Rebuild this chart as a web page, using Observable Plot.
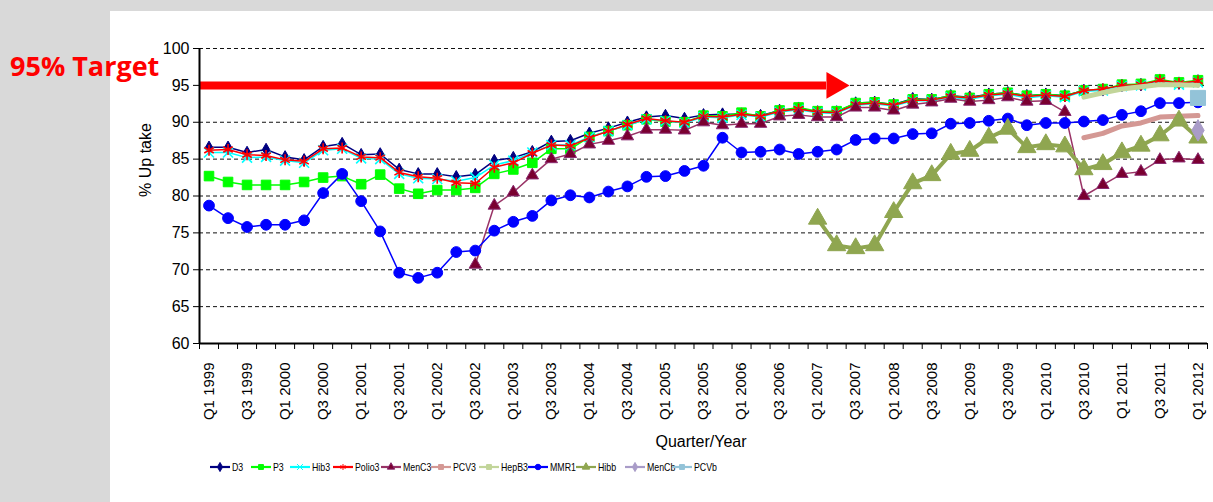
<!DOCTYPE html>
<html><head><meta charset="utf-8">
<script src="https://cdn.jsdelivr.net/npm/d3@7"></script>
<script src="https://cdn.jsdelivr.net/npm/@observablehq/plot@0.6"></script>
<style>
html,body{margin:0;padding:0;}
body{width:1213px;height:502px;background:#d9d9d9;position:relative;overflow:hidden;font-family:"Liberation Sans",Arial,sans-serif;}
#panel{position:absolute;left:110px;top:11px;width:1103px;height:491px;background:#fff;}
#chart{position:absolute;left:0;top:0;}
#overlay{position:absolute;left:0;top:0;}
</style></head><body>
<div id="panel"></div><div id="chart"></div><svg id="overlay" width="1213" height="502"></svg>
<script>
// ---------- data ----------
const quarters = ["Q1 1999","Q2 1999","Q3 1999","Q4 1999","Q1 2000","Q2 2000","Q3 2000","Q4 2000",
"Q1 2001","Q2 2001","Q3 2001","Q4 2001","Q1 2002","Q2 2002","Q3 2002","Q4 2002",
"Q1 2003","Q2 2003","Q3 2003","Q4 2003","Q1 2004","Q2 2004","Q3 2004","Q4 2004",
"Q1 2005","Q2 2005","Q3 2005","Q4 2005","Q1 2006","Q2 2006","Q3 2006","Q4 2006",
"Q1 2007","Q2 2007","Q3 2007","Q4 2007","Q1 2008","Q2 2008","Q3 2008","Q4 2008",
"Q1 2009","Q2 2009","Q3 2009","Q4 2009","Q1 2010","Q2 2010","Q3 2010","Q4 2010",
"Q1 2011","Q2 2011","Q3 2011","Q4 2011","Q1 2012"];
const yTickValues = [60,65,70,75,80,85,90,95,100];
const targetLevel = 95;
const targetLabel = "95% Target";
const yTitle = "% Up take";
const xTitle = "Quarter/Year";

const uptakeD3 = [86.6,86.6,85.9,86.3,85.3,84.9,86.7,87.1,85.6,85.7,83.6,83.0,83.0,82.6,82.9,84.8,
85.2,86.0,87.4,87.5,88.5,89.2,90.0,90.7,90.9,90.5,91.0,91.1,91.1,90.9,91.6,91.9,
91.4,91.4,92.6,92.7,92.4,93.2,93.1,93.6,93.4,93.8,94.0,93.6,93.8,93.6,94.3,94.4,
95.0,95.1,95.7,95.3,95.6];
const uptakeP3 = [82.7,81.9,81.5,81.5,81.5,81.9,82.5,82.7,81.6,82.9,81.0,80.3,80.8,80.8,81.1,83.0,
83.6,84.5,86.4,86.4,88.0,88.8,89.6,90.4,90.1,90.0,90.9,90.8,91.3,90.8,91.6,92.0,
91.5,91.5,92.6,92.7,92.4,93.1,93.1,93.6,93.3,93.8,94.0,93.6,93.8,93.6,94.3,94.5,
95.1,95.2,95.8,95.4,95.7];
const uptakeHib3 = [85.9,85.9,85.2,85.3,84.8,84.5,86.2,86.4,85.1,85.0,83.0,82.4,82.3,82.0,82.5,84.2,
84.8,85.9,86.9,86.9,88.0,88.8,89.6,90.4,90.2,89.9,90.7,90.6,91.0,90.7,91.4,91.7,
91.3,91.2,92.3,92.5,92.2,92.9,92.9,93.4,93.1,93.6,93.8,93.3,93.6,93.4,94.2,94.3,
94.9,95.0,95.5,95.1,95.4];
const uptakePolio3 = [86.2,86.3,85.6,85.5,84.9,84.7,86.4,86.5,85.3,85.2,83.2,82.6,82.4,81.8,81.7,83.9,
84.5,85.8,86.9,86.8,87.9,88.8,89.7,90.5,90.2,90.0,90.8,90.7,91.1,90.8,91.5,91.8,
91.4,91.3,92.4,92.6,92.3,93.0,93.0,93.5,93.3,93.7,93.9,93.5,93.7,93.5,94.3,94.5,
95.0,95.1,95.7,95.3,95.6];
const menC3Start = 14;
const uptakeMenC3 = [70.7,78.7,80.5,82.8,85.0,85.7,87.0,87.5,88.1,89.0,89.0,88.9,90.0,89.6,89.8,89.8,
90.8,91.0,90.7,90.7,92.0,92.0,91.6,92.4,92.7,93.2,92.8,93.0,93.4,92.8,92.9,91.4,
80.0,81.5,83.0,83.3,84.9,85.1,84.9];
const pcv3Start = 46;
const uptakePCV3 = [87.9,88.5,89.5,89.9,90.7,90.8,90.9];
const hepB3Start = 46;
const uptakeHepB3 = [93.4,94.0,94.5,94.8,95.1,95.1,95.0];
const uptakeMMR1 = [78.7,77.0,75.8,76.1,76.1,76.7,80.4,83.0,79.3,75.2,69.6,68.9,69.6,72.4,72.6,75.3,
76.5,77.3,79.4,80.1,79.8,80.6,81.3,82.6,82.7,83.4,84.1,87.9,85.9,86.0,86.3,85.7,
86.0,86.3,87.6,87.8,87.8,88.4,88.5,89.8,89.9,90.2,90.5,89.6,89.9,89.9,90.1,90.3,
91.0,91.5,92.6,92.6,92.7];
const hibbStart = 32;
const uptakeHibb = [76.9,73.3,72.9,73.3,77.8,81.7,82.8,85.7,86.1,87.9,89.1,86.6,87.0,86.7,83.6,84.3,
85.9,86.8,88.2,90.2,87.9];
const menCbStart = 52;
const uptakeMenCb = [88.9];
const pcvbStart = 52;
const uptakePCVb = [93.3];

const seriesNames = ["D3","P3","Hib3","Polio3","MenC3","PCV3","HepB3","MMR1","Hibb","MenCb","PCVb"];
const seriesData = {
  D3: [0, uptakeD3], P3: [0, uptakeP3], Hib3: [0, uptakeHib3], Polio3: [0, uptakePolio3],
  MenC3: [menC3Start, uptakeMenC3], PCV3: [pcv3Start, uptakePCV3], HepB3: [hepB3Start, uptakeHepB3],
  MMR1: [0, uptakeMMR1], Hibb: [hibbStart, uptakeHibb], MenCb: [menCbStart, uptakeMenCb], PCVb: [pcvbStart, uptakePCVb]
};

// ---------- styles ----------
const styles = {
  D3:    {stroke:"#000080", sw:1.5, symbol:"diamond", r:3.8, fill:"#000080", ms:"#000080", msw:1},
  P3:    {stroke:"#00ff00", sw:1.5, symbol:"square", r:5.4, fill:"#00ff00", ms:"#00ff00", msw:1},
  Hib3:  {stroke:"#00ffff", sw:1.5, symbol:"times", r:4.6, fill:"none", ms:"#00ffff", msw:1.6},
  Polio3:{stroke:"#ff0000", sw:1.5, symbol:"asterisk", r:5.2, fill:"none", ms:"#ff0000", msw:1.6},
  MenC3: {stroke:"#993366", sw:1.5, symbol:"triangle", r:4.6, fill:"#7a0030", ms:"#8a2a70", msw:1},
  PCV3:  {stroke:"#d49894", sw:5, symbol:"square", r:1.5, fill:"#d49894", ms:"#d49894", msw:1},
  HepB3: {stroke:"#c2d59a", sw:5, symbol:"square", r:1.5, fill:"#c2d59a", ms:"#c2d59a", msw:1},
  MMR1:  {stroke:"#0000ff", sw:1.5, symbol:"circle", r:5.4, fill:"#0000ff", ms:"#0000ff", msw:1},
  Hibb:  {stroke:"#8fa650", sw:4, symbol:"triangle", r:6.8, fill:"#8fa650", ms:"#8fa650", msw:1},
  MenCb: {stroke:"#a99cc8", sw:2, symbol:"diamond", r:6.5, fill:"#a99cc8", ms:"#a99cc8", msw:1},
  PCVb:  {stroke:"#93c3d8", sw:2, symbol:"square", r:8.5, fill:"#93c3d8", ms:"#93c3d8", msw:1}
};

const rows = seriesNames.flatMap(name => {
  const [start, vals] = seriesData[name];
  return vals.map((v, k) => ({name, i: start + k, v}));
});

const categoryBounds = d3.range(quarters.length + 1).map(k => k - 0.5);
const labelIdx = d3.range(0, quarters.length, 2);
const gridValues = yTickValues.filter(v => v > yTickValues[0]);
const arrowBodyEnd = 32.47, arrowHeadAt = 32.87;

const seriesMarks = seriesNames.flatMap(name => {
  const s = styles[name];
  const data = rows.filter(d => d.name === name);
  return [
    Plot.line(data, {x:"i", y:"v", stroke:s.stroke, strokeWidth:s.sw, strokeLinejoin:"round"}),
    Plot.dot(data, {x:"i", y:"v", symbol:s.symbol, r:s.r, fill:s.fill, stroke:s.ms, strokeWidth:s.msw})
  ];
});

const chart = Plot.plot({
  width:1213, height:450,
  marginLeft:199, marginRight:6, marginTop:48, marginBottom:107,
  x:{domain:[-0.5, quarters.length - 0.5]},
  y:{domain:[60,100]},
  style:{background:"transparent", fontFamily:"'Liberation Sans', Arial, sans-serif", color:"#000", overflow:"visible"},
  marks:[
    Plot.ruleY(gridValues, {x1:-0.5, x2:quarters.length - 0.5, stroke:"#111", strokeWidth:1, strokeDasharray:"4,3"}),
    Plot.ruleY([targetLevel], {x1:-0.5, x2:arrowBodyEnd, stroke:"#ff0000", strokeWidth:8}),
    Plot.dot([{i:arrowHeadAt, v:targetLevel}], {x:"i", y:"v", symbol:"triangle", rotate:90, r:9.9, fill:"#ff0000"}),
    ...seriesMarks,
    Plot.ruleX([-0.5], {y1:60, y2:100, stroke:"#000", strokeWidth:2}),
    Plot.ruleY([60], {x1:-0.5, x2:quarters.length - 0.5, stroke:"#000", strokeWidth:2}),
    Plot.axisY(yTickValues, {anchor:"left", tickSize:6, tickPadding:4, fontSize:16, label:null, stroke:"#000"}),
    Plot.axisX(categoryBounds, {anchor:"bottom", tickSize:6, tickFormat:() => "", label:null, stroke:"#000"}),
    Plot.axisX(labelIdx, {anchor:"bottom", tickSize:0, tickPadding:19, tickRotate:-90, fontSize:15,
      tickFormat:i => quarters[i], label:null})
  ]
});
document.getElementById("chart").appendChild(chart);

// ---------- annotations & legend ----------
const ov = d3.select("#overlay");
ov.append("text").attr("x",10).attr("y",76).attr("fill","#ff0000")
  .attr("font-family","'Open Sans', sans-serif").attr("font-weight","bold").attr("font-size",27)
  .text(targetLabel);
ov.append("text").attr("transform","translate(151,160) rotate(-90)").attr("text-anchor","middle")
  .attr("font-size",16).attr("font-family","'Liberation Sans', Arial, sans-serif").text(yTitle);
ov.append("text").attr("x",701).attr("y",447).attr("text-anchor","middle")
  .attr("font-size",16).attr("font-family","'Liberation Sans', Arial, sans-serif").text(xTitle);

const legendOffsets = [210,251,290,333,381,431,479,528,576,625,672];
const lg = ov.append("g").attr("font-family","'Liberation Sans', Arial, sans-serif").attr("font-size",11);
seriesNames.forEach((name, k) => {
  const s = styles[name], x0 = legendOffsets[k], y0 = 467;
  const g = lg.append("g").attr("transform", `translate(${x0},${y0})`);
  g.append("line").attr("x1",0).attr("x2",20).attr("y1",0).attr("y2",0).attr("stroke",s.stroke).attr("stroke-width",2.2);
  const sym = {diamond:d3.symbolDiamond, square:d3.symbolSquare, times:d3.symbolTimes, asterisk:d3.symbolAsterisk,
    triangle:d3.symbolTriangle, circle:d3.symbolCircle}[s.symbol];
  g.append("path").attr("transform","translate(10,0)").attr("d", d3.symbol(sym, 24)())
    .attr("fill", s.fill).attr("stroke", s.ms).attr("stroke-width", 1);
  g.append("text").attr("transform","translate(22,4) scale(0.8,1)").attr("fill","#000").text(name);
});
</script>
</body></html>
